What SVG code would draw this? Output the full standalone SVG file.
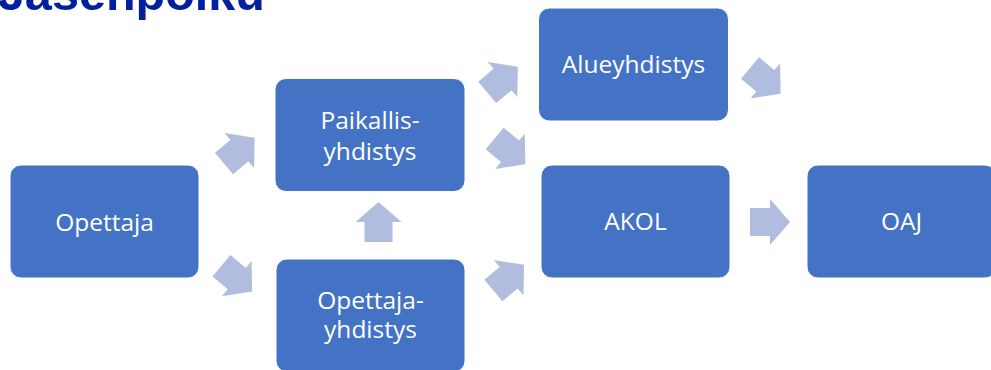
<svg xmlns="http://www.w3.org/2000/svg" xmlns:xlink="http://www.w3.org/1999/xlink" width="991" height="370" viewBox="0 0 991 370">
  <style>
    .box { fill: #4472C4; stroke: #FFFFFF; stroke-width: 1; }
    .lbl { fill: #FFFFFF; font-family: "Open Sans", "Noto Sans", "Liberation Sans", sans-serif; font-size: 24.5px; text-anchor: middle; }
    .arr { fill: #B0BDDF; }
    .title { fill: #00209F; font-family: "Liberation Sans", Arial, sans-serif; font-weight: bold; font-size: 48.5px; }
  </style>
  <defs>
    <path id="arrow" class="arr" d="M-20,-14 L0,-14 L0,-23 L20,0 L0,23 L0,14 L-20,14 Z"/>
  </defs>
  <rect x="0" y="0" width="991" height="370" fill="#FFFFFF"/>
  <text class="title" x="-2" y="10">Jäsenpolku</text>

  <g id="connectors">
    <use xlink:href="#arrow" href="#arrow" transform="translate(239.3,150.6) rotate(-40)"/>
    <use xlink:href="#arrow" href="#arrow" transform="translate(236.8,278.6) rotate(40)"/>
    <use xlink:href="#arrow" href="#arrow" transform="translate(378.5,222) rotate(-90)"/>
    <use xlink:href="#arrow" href="#arrow" transform="translate(502.5,79.5) rotate(-40)"/>
    <use xlink:href="#arrow" href="#arrow" transform="translate(510,151.3) rotate(40)"/>
    <use xlink:href="#arrow" href="#arrow" transform="translate(508.7,277.7) rotate(-40)"/>
    <use xlink:href="#arrow" href="#arrow" transform="translate(765.3,80.8) rotate(40)"/>
    <use xlink:href="#arrow" href="#arrow" transform="translate(770,222)"/>
  </g>

  <g id="opettaja">
    <rect class="box" x="10" y="165" width="189" height="113" rx="11"/>
    <text class="lbl" x="104.5" y="231">Opettaja</text>
  </g>
  <g id="paikallisyhdistys">
    <rect class="box" x="275" y="78.5" width="190" height="113" rx="11"/>
    <text class="lbl" x="370" y="129">Paikallis-</text>
    <text class="lbl" x="370" y="160">yhdistys</text>
  </g>
  <g id="opettajayhdistys">
    <rect class="box" x="276" y="259" width="189" height="113" rx="11"/>
    <text class="lbl" x="370.5" y="309">Opettaja-</text>
    <text class="lbl" x="370.5" y="338">yhdistys</text>
  </g>
  <g id="alueyhdistys">
    <rect class="box" x="538.5" y="8" width="190" height="113" rx="11"/>
    <text class="lbl" x="633.5" y="72.5">Alueyhdistys</text>
  </g>
  <g id="akol">
    <rect class="box" x="541" y="165" width="189" height="113" rx="11"/>
    <text class="lbl" x="635.5" y="230">AKOL</text>
  </g>
  <g id="oaj">
    <rect class="box" x="807" y="165" width="189" height="113" rx="11"/>
    <text class="lbl" x="901.5" y="230">OAJ</text>
  </g>
</svg>
